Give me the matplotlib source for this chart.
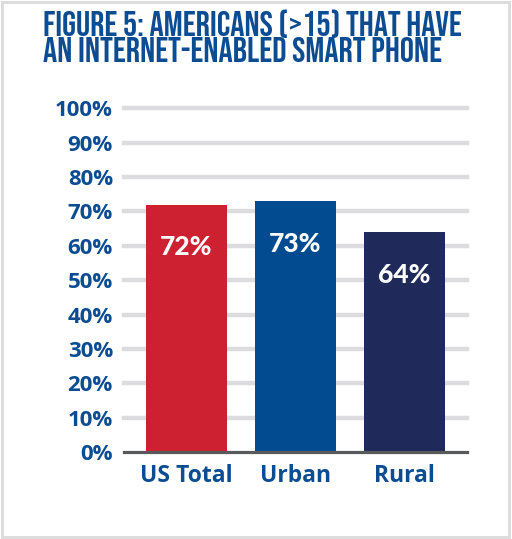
import matplotlib
matplotlib.use("Agg")
import matplotlib.pyplot as plt
from matplotlib.patches import Rectangle

categories = ["US Total", "Urban", "Rural"]
values = [72, 73, 64]
value_labels = ["72%", "73%", "64%"]
bar_colors = ["#cd2030", "#034b91", "#1f2a5a"]
y_ticks = list(range(0, 101, 10))
y_tick_labels = [f"{t}%" for t in y_ticks]
title = "FIGURE 5: AMERICANS (>15) THAT HAVE\nAN INTERNET-ENABLED SMART PHONE"

blue = "#0b4c92"
axis_font = ["Open Sans", "DejaVu Sans"]

fig = plt.figure(figsize=(5.12, 5.39), dpi=100)
ax = fig.add_axes([124 / 512, 87 / 539, 343 / 512, 343.7 / 539])

x = list(range(len(categories)))
ax.bar(x, values, width=0.743, color=bar_colors, zorder=3)

for t in y_ticks[1:]:
    ax.axhline(t, color="#dcdcde", lw=3.2, zorder=1, clip_on=False)
ax.axhline(0, color="#58595b", lw=2.3, zorder=4, clip_on=False)

for xi, v, lab in zip(x, values, value_labels):
    ax.text(xi, v - 12.5, lab, ha="center", va="center", color="white",
            fontsize=19, fontweight=900, family=["Lato", "DejaVu Sans"],
            zorder=5)

ax.set_xlim(-0.573, 2.573)
ax.set_ylim(0, 100)
ax.set_yticks(y_ticks)
ax.set_yticklabels(y_tick_labels, family=axis_font, fontweight="bold",
                   fontsize=16, color=blue)
ax.set_xticks(x)
ax.set_xticklabels(categories, family=axis_font, fontweight="bold",
                   fontsize=16.5, color=blue)
ax.tick_params(axis="y", length=0, pad=8)
ax.tick_params(axis="x", length=0, pad=9)
for s in ax.spines.values():
    s.set_visible(False)

fig.text(43 / 512, 1 - 9 / 539, title, ha="left", va="top", color=blue,
         family="Bebas Neue", fontsize=25.5, linespacing=0.97)

fig.patches.append(Rectangle((2 / 512, 2 / 539), 507 / 512, 535 / 539,
                             transform=fig.transFigure, fill=False,
                             edgecolor="#dddddd", lw=2.2))

fig.savefig("out.png", dpi=100)
